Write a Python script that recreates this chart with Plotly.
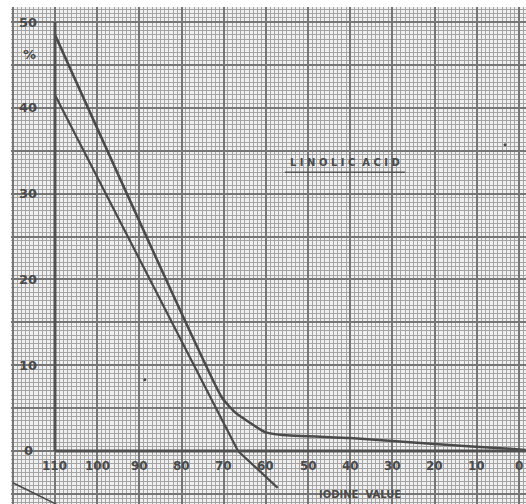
import plotly.graph_objects as go

# ---- data ----
upper_iv = [110, 70.4, 67.3, 63.8, 60.2, 56.0, 40.0, 20.0, 2.1, -1.6]
upper_pct = [48.5, 6.2, 4.5, 3.3, 2.2, 1.85, 1.5, 0.8, 0.25, 0.1]

lower_iv = [110, 87.5, 66.6, 57.2]
lower_pct = [41.5, 20.0, 0.0, -4.3]

stray_iv = [88.7, 3.3]
stray_pct = [8.3, 35.7]

corner_iv = [120.0, 108.5]
corner_pct = [-3.7, -6.5]

x_ticks = [110, 100, 90, 80, 70, 60, 50, 40, 30, 20, 10, 0]
y_ticks = [0, 10, 20, 30, 40, 50]

ink = "#4a4a4a"
font = dict(family="DejaVu Sans", size=12, color="#4a4a4a")

fig = go.Figure()

fig.add_trace(go.Scatter(x=upper_iv, y=upper_pct, mode="lines",
                         line=dict(color=ink, width=2.5, shape="spline", smoothing=0.4),
                         hoverinfo="skip", showlegend=False))
fig.add_trace(go.Scatter(x=lower_iv, y=lower_pct, mode="lines",
                         line=dict(color=ink, width=2.2),
                         hoverinfo="skip", showlegend=False))
fig.add_trace(go.Scatter(x=stray_iv, y=stray_pct, mode="markers",
                         marker=dict(color=ink, size=3),
                         hoverinfo="skip", showlegend=False))
fig.add_trace(go.Scatter(x=corner_iv, y=corner_pct, mode="lines",
                         line=dict(color=ink, width=1.5),
                         hoverinfo="skip", showlegend=False))

# axes drawn on the graph paper
fig.add_shape(type="line", x0=110, x1=110, y0=0, y1=50, xref="x", yref="y",
              line=dict(color="#505050", width=3))
fig.add_shape(type="line", x0=110, x1=-1.67, y0=0, y1=0, xref="x", yref="y",
              line=dict(color="#505050", width=3))

annotations = []
for v in y_ticks:
    annotations.append(dict(x=116.4, y=v, text="<b>%d</b>" % v, showarrow=False,
                            xref="x", yref="y", font=dict(font, size=13)))
annotations.append(dict(x=116.0, y=46.2, text="<b>%</b>", showarrow=False,
                        xref="x", yref="y", font=dict(font, size=13)))
for v in x_ticks:
    annotations.append(dict(x=v, y=-1.8, text="<b>%d</b>" % v, showarrow=False,
                            xref="x", yref="y", font=dict(font, size=12)))
annotations.append(dict(x=37.7, y=-5.1, text="<b>IODINE  VALUE</b>", showarrow=False,
                        xref="x", yref="y", font=dict(font, size=10)))
annotations.append(dict(x=41.3, y=33.6, text="<b>L I N O L I C  A C I D</b>", showarrow=False,
                        xref="x", yref="y", font=dict(font, size=10)))
fig.add_shape(type="line", x0=55.5, x1=27.0, y0=32.5, y1=32.5, xref="x", yref="y",
              line=dict(color="#555555", width=1.5))

grid_axis = dict(showticklabels=False, ticks="", zeroline=False, showline=False,
                 showgrid=True, gridcolor="#767676", gridwidth=1.5)

fig.update_layout(
    width=526, height=504,
    margin=dict(l=11, r=0, t=7, b=0),
    paper_bgcolor="white",
    plot_bgcolor="#f0f0f0",
    annotations=annotations,
    xaxis=dict(grid_axis, range=[120.43, -1.67], tick0=0, dtick=10,
               minor=dict(dtick=1, tick0=0, showgrid=True, gridcolor="#a4a4a4", gridwidth=1)),
    yaxis=dict(grid_axis, range=[-6.18, 51.75], tick0=0, dtick=5,
               minor=dict(dtick=0.5, tick0=0, showgrid=True, gridcolor="#a4a4a4", gridwidth=1)),
)

fig.write_html("out.html", config={"displayModeBar": False},
               post_script="document.body.style.margin='0';document.body.style.padding='0';")
